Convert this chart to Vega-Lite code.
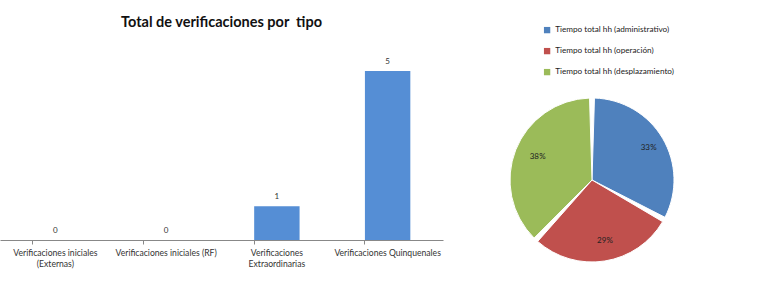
{
  "$schema": "https://vega.github.io/schema/vega-lite/v6.json",
  "padding": {"left": 0, "top": 14, "right": 0, "bottom": 0},
  "background": "white",
  "config": {
    "font": "Lato",
    "view": {"stroke": null},
    "concat": {"spacing": 17}
  },
  "hconcat": [
    {
      "width": 443,
      "height": 169,
      "title": {"text": "Total de verificaciones por\u00a0 tipo", "fontSize": 14.5, "fontWeight": "bold", "color": "#111111", "offset": 28, "anchor": "middle", "font": "Lato"},
      "data": {"values": [
        {"tipo": "Verificaciones iniciales|(Externas)", "total": 0},
        {"tipo": "Verificaciones iniciales (RF)", "total": 0},
        {"tipo": "Verificaciones|Extraordinarias", "total": 1},
        {"tipo": "Verificaciones Quinquenales", "total": 5}
      ]},
      "encoding": {
        "x": {"field": "tipo", "type": "nominal", "sort": null,
          "scale": {"paddingInner": 0.59, "paddingOuter": 0.295},
          "axis": {"title": null, "labelAngle": 0, "labelExpr": "split(datum.label, '|')", "labelFontSize": 8.6, "labelColor": "#333333", "domainColor": "#888888", "tickColor": "#888888", "tickSize": 4, "labelPadding": 4, "labelLineHeight": 11, "ticks": true, "bandPosition": 0}},
        "y": {"field": "total", "type": "quantitative", "scale": {"domain": [0, 5], "nice": false}, "axis": null}
      },
      "layer": [
        {"mark": {"type": "bar", "color": "#558ED5"}},
        {"mark": {"type": "text", "dy": -9, "fontSize": 8, "color": "#333333"}, "encoding": {"text": {"field": "total", "type": "quantitative"}}}
      ]
    },
    {
      "width": 264,
      "height": 218,
      "data": {"values": [
        {"tiempo": "Tiempo total hh (administrativo)", "pct": 33, "orden": 1},
        {"tiempo": "Tiempo total hh (operación)", "pct": 29, "orden": 2},
        {"tiempo": "Tiempo total hh (desplazamiento)", "pct": 38, "orden": 3}
      ]},
      "encoding": {
        "theta": {"field": "pct", "type": "quantitative", "stack": true},
        "order": {"field": "orden", "type": "quantitative"},
        "color": {"field": "tiempo", "type": "nominal", "sort": ["Tiempo total hh (administrativo)", "Tiempo total hh (operación)", "Tiempo total hh (desplazamiento)"],
          "scale": {"domain": ["Tiempo total hh (administrativo)", "Tiempo total hh (operación)", "Tiempo total hh (desplazamiento)"], "range": ["#4F81BD", "#C0504D", "#9BBB59"]},
          "legend": {"title": null, "orient": "none", "legendX": 543, "legendY": -45, "symbolType": "square", "symbolSize": 40, "labelFontSize": 8.2, "labelColor": "#222222", "rowPadding": 12, "symbolStrokeWidth": 0}}
      },
      "layer": [
        {"mark": {"type": "arc", "outerRadius": 82, "padAngle": 0.06, "stroke": "white", "strokeWidth": 1}},
        {"mark": {"type": "text", "radius": 62, "fontSize": 8, "color": "#222222"}, "encoding": {"text": {"field": "pct", "type": "quantitative", "format": ".0f"}, "color": {"value": "#222222"}}},
        {"mark": {"type": "text", "radius": 62, "fontSize": 8, "color": "#222222", "dx": 8}, "encoding": {"text": {"value": "%"}, "color": {"value": "#222222"}}}
      ]
    }
  ]
}
